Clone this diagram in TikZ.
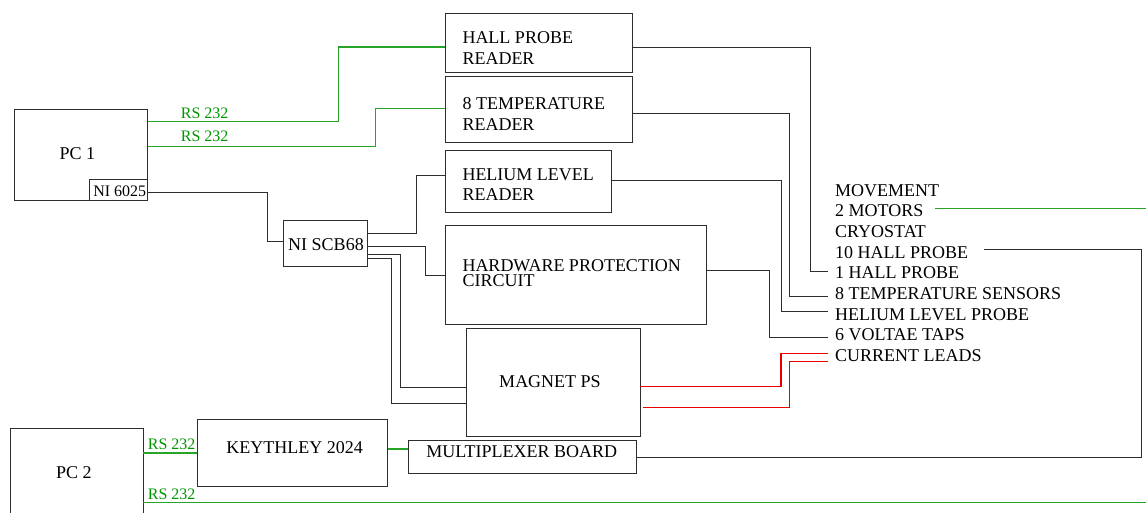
\documentclass[tikz,border=0pt]{standalone}
\usepackage{fontspec}
\setmainfont{Liberation Serif}
\definecolor{lgreen}{RGB}{40,165,40}
\definecolor{tgreen}{RGB}{0,150,0}
\definecolor{lred}{RGB}{235,0,0}
\definecolor{lgray}{RGB}{45,45,45}
\tikzset{
  box/.style={draw=lgray, line width=1pt, inner sep=0pt, outer sep=0pt, anchor=north west},
  txt/.style={font=\fontsize{18}{20.7}\selectfont, inner sep=0pt, text=black},
  smalltxt/.style={font=\fontsize{16}{18}\selectfont, inner sep=0pt},
  rstxt/.style={smalltxt, text=tgreen, anchor=base west},
  rlab/.style={txt, inner xsep=7pt, inner ysep=0pt, anchor=base west},
  wire/.style={draw=lgray, line width=1pt},
  gwire/.style={draw=lgreen, line width=1.1pt},
  rwire/.style={draw=lred, line width=1.5pt}
}
\begin{document}
\begin{tikzpicture}[x=1pt,y=-1pt]
\useasboundingbox (0,0) rectangle (1146,512);

% boxes
\node[box, minimum width=133, minimum height=91.3] (pc1) at (14.7,109) {};
\node[box, minimum width=58.4, minimum height=21] (ni) at (89.3,179.3) {};
\node[box, minimum width=187, minimum height=58.3] (hpr) at (445,13.7) {};
\node[box, minimum width=187, minimum height=66.3] (tr) at (445,76) {};
\node[box, minimum width=166.7, minimum height=62.4] (hlr) at (445,150.3) {};
\node[box, minimum width=261.7, minimum height=99] (hw) at (445,225) {};
\node[box, minimum width=83.3, minimum height=46] (scb) at (283.7,220.7) {};
\node[box, minimum width=174, minimum height=107.6] (mps) at (466.3,328.7) {};
\node[box, minimum width=228, minimum height=33.4] (mux) at (408.3,440.3) {};
\node[box, minimum width=190.7, minimum height=66.6] (key) at (197,419.7) {};
\node[box, minimum width=132.6, minimum height=110] (pc2) at (10.7,428) {};

% box texts
\node[txt, anchor=base] (pc1t) at (77.3,159.3) {PC 1};
\node[smalltxt, anchor=base] (nit) at (119.8,196.5) {NI 6025};
\node[txt, anchor=base west] (hprt1) at (462.3,43.3) {HALL PROBE};
\node[txt, anchor=base west] (hprt2) at (462.3,64.3) {READER};
\node[txt, anchor=base west] (trt1) at (462.3,109.3) {8 TEMPERATURE};
\node[txt, anchor=base west] (trt2) at (462.3,130) {READER};
\node[txt, anchor=base west] (hlrt1) at (462.3,180) {HELIUM LEVEL};
\node[txt, anchor=base west] (hlrt2) at (462.3,200.5) {READER};
\node[txt, anchor=base west] (hwt1) at (462.3,271.5) {HARDWARE PROTECTION};
\node[txt, anchor=base west] (hwt2) at (462.3,286.5) {CIRCUIT};
\node[txt, anchor=base] (scbt) at (326,250.7) {NI SCB68};
\node[txt, anchor=base] (mpst) at (550,387.3) {MAGNET PS};
\node[txt, anchor=base] (muxt) at (521.8,457.3) {MULTIPLEXER BOARD};
\node[txt, anchor=base] (keyt) at (294.7,453.3) {KEYTHLEY 2024};
\node[txt, anchor=base] (pc2t) at (73.8,478.3) {PC 2};

% right labels
\node[rlab] (rmov) at (828,196) {MOVEMENT};
\node[rlab] (rmot) at (828,216.7) {2 MOTORS};
\node[rlab] (rcry) at (828,237.4) {CRYOSTAT};
\node[rlab] (rten) at (828,258) {10 HALL PROBE};
\node[rlab] (rone) at (828,278.8) {1 HALL PROBE};
\node[rlab] (rtmp) at (828,299.4) {8 TEMPERATURE SENSORS};
\node[rlab] (rhel) at (828,320.2) {HELIUM LEVEL PROBE};
\node[rlab] (rvol) at (828,340.9) {6 VOLTAE TAPS};
\node[rlab] (rcur) at (828,361.6) {CURRENT LEADS};

% RS 232 labels
\node[rstxt] (rs1) at (180.7,118.3) {RS 232};
\node[rstxt] (rs2) at (180.7,141.7) {RS 232};
\node[rstxt] (rs3) at (147.7,449.3) {RS 232};
\node[rstxt] (rs4) at (147.7,499.3) {RS 232};

% free-end coordinates
\coordinate (motA) at (935,208.3);
\coordinate (motB) at (1146,208.3);
\coordinate (tenE) at (984,249.3);
\coordinate (mpsB) at (643,407.5);
\coordinate (curB) at (789.5,361.5);
\coordinate (pc2E) at (1146,502.5);

% green connectors
\draw[gwire] (pc1.east |- 0,121.7) -| (338.3,47) -- (hpr.west |- 0,47);
\draw[gwire] (pc1.east |- 0,146.3) -| (375.7,108.7) -- (tr.west |- 0,108.7);
\draw[gwire] (motA) -- (motB);
\draw[gwire] (key.east |- 0,449) -- (mux.west |- 0,449);
\draw[gwire] (pc2.east |- 0,453) -- (key.west |- 0,453);
\draw[gwire] (pc2.east |- 0,502.5) -- (pc2E);

% black connectors
\draw[wire] (ni.east |- 0,192) -| (267.3,241.7) -- (scb.west |- 0,241.7);
\draw[wire] (scb.east |- 0,233.3) -| (416.7,175.3) -- (hlr.west |- 0,175.3);
\draw[wire] (scb.east |- 0,246) -| (425,275) -- (hw.west |- 0,275);
\draw[wire] (scb.east |- 0,254.3) -| (400,387) -- (mps.west |- 0,387);
\draw[wire] (scb.east |- 0,258.3) -| (391.7,403.3) -- (mps.west |- 0,403.3);
\draw[wire] (hpr.east |- 0,47) -| (810.5,271) -- (rone.west |- 0,271);
\draw[wire] (tr.east |- 0,113.3) -| (789.3,296) -- (rtmp.west |- 0,296);
\draw[wire] (hlr.east |- 0,180) -| (781.7,311.7) -- (rhel.west |- 0,311.7);
\draw[wire] (hw.east |- 0,270.7) -| (769,337) -- (rvol.west |- 0,337);
\draw[wire] (mux.east |- 0,457) -| (1141.5,249.3) -- (tenE);

% red connectors
\draw[rwire] (mps.east |- 0,386.7) -| (781,353.3) -- (rcur.west |- 0,353.3);
\draw[rwire] (mpsB) -| (curB) -- (rcur.west |- curB);
\end{tikzpicture}
\end{document}
